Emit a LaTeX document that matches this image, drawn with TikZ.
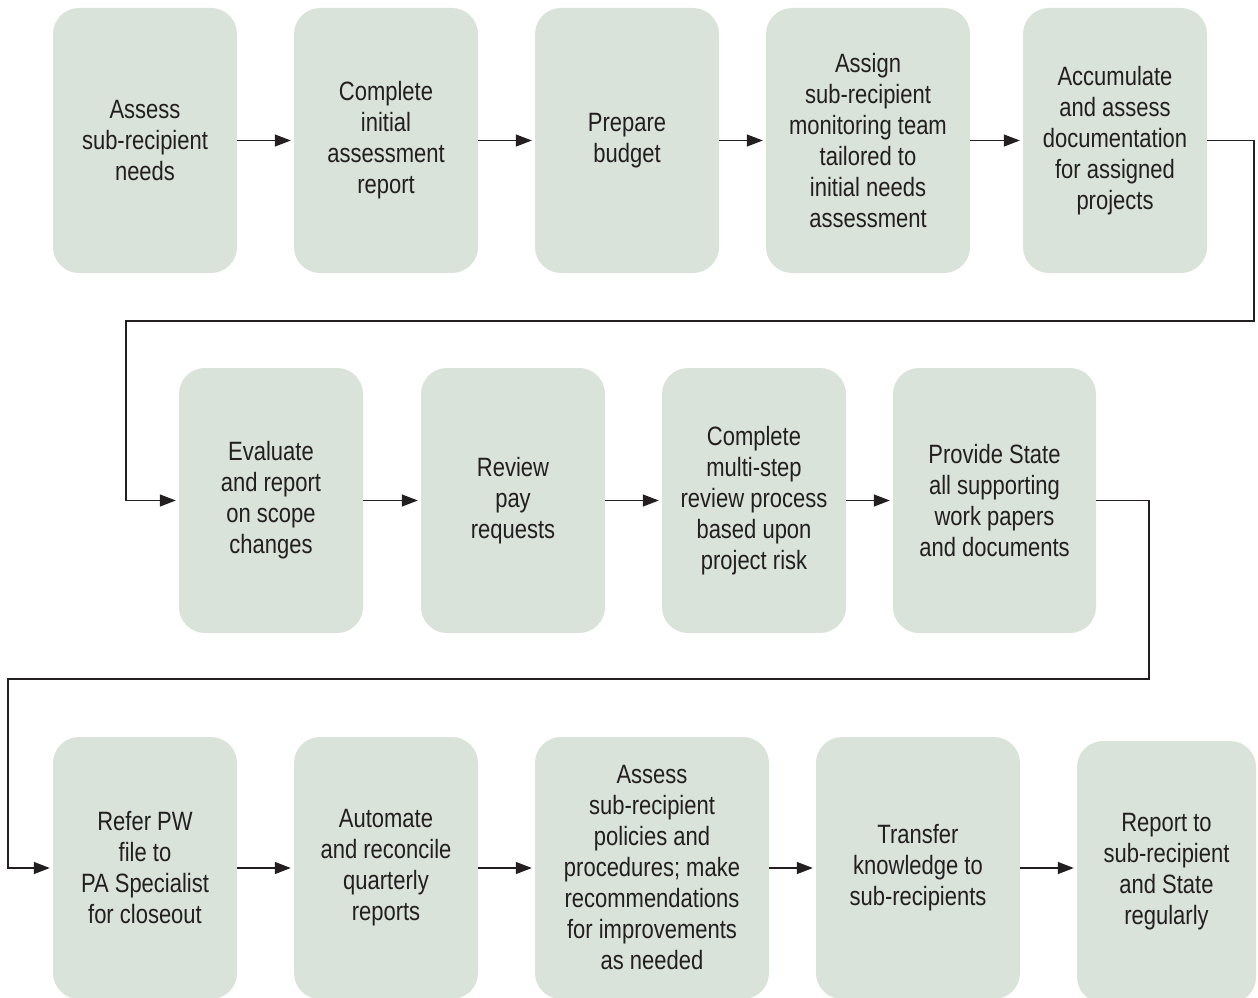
\documentclass[tikz,border=0pt]{standalone}
\usepackage{fontspec}
\setmainfont{Liberation Sans}[FakeStretch=0.83]
\usetikzlibrary{arrows.meta}
\definecolor{boxfill}{RGB}{217,227,217}
\definecolor{ink}{RGB}{35,31,32}
\tikzset{
  stepbox/.style={rectangle, rounded corners=26pt, fill=boxfill, draw=none,
    inner sep=0pt, align=center, text=ink,
    font=\fontsize{26.5}{31}\selectfont},
  flow/.style={draw=ink, line width=1.3pt, -{Triangle[length=16pt,width=12pt]}, shorten >=3pt}
}
\begin{document}
\begin{tikzpicture}[x=1pt,y=-1pt]
\useasboundingbox (0,0) rectangle (1258,998);
\clip (0,0) rectangle (1258,998);
% row 1
\node[stepbox, minimum width=184pt, minimum height=265pt] (a1) at (145,140.5) {Assess\\sub-recipient\\needs};
\node[stepbox, minimum width=184pt, minimum height=265pt] (a2) at (386,140.5) {Complete\\initial\\assessment\\report};
\node[stepbox, minimum width=184pt, minimum height=265pt] (a3) at (627,140.5) {Prepare\\budget};
\node[stepbox, minimum width=204pt, minimum height=265pt] (a4) at (868,140.5) {Assign\\sub-recipient\\monitoring team\\tailored to\\initial needs\\assessment};
\node[stepbox, minimum width=184pt, minimum height=265pt] (a5) at (1115,140.5) {Accumulate\\and assess\\documentation\\for assigned\\projects};
% row 2
\node[stepbox, minimum width=184pt, minimum height=265pt] (b1) at (271,500.5) {Evaluate\\and report\\on scope\\changes};
\node[stepbox, minimum width=184pt, minimum height=265pt] (b2) at (513,500.5) {Review\\pay\\requests};
\node[stepbox, minimum width=184pt, minimum height=265pt] (b3) at (754,500.5) {Complete\\multi-step\\review process\\based upon\\project risk};
\node[stepbox, minimum width=203pt, minimum height=265pt] (b4) at (994.5,500.5) {Provide State\\all supporting\\work papers\\and documents};
% row 3
\node[stepbox, minimum width=184pt, minimum height=262pt] (c1) at (145,868) {Refer PW\\file to\\PA Specialist\\for closeout};
\node[stepbox, minimum width=184pt, minimum height=262pt] (c2) at (386,868) {Automate\\and reconcile\\quarterly\\reports};
\node[stepbox, minimum width=234pt, minimum height=262pt] (c3) at (652,868) {Assess\\sub-recipient\\policies and\\procedures; make\\recommendations\\for improvements\\as needed};
\node[stepbox, minimum width=204pt, minimum height=262pt] (c4) at (918,868) {Transfer\\knowledge to\\sub-recipients};
\node[stepbox, minimum width=179pt, minimum height=262pt] (c5) at (1166.5,872) {Report to\\sub-recipient\\and State\\regularly};
% connectors
\draw[flow] (a1.east) -- (a2.west);
\draw[flow] (a2.east) -- (a3.west);
\draw[flow] (a3.east) -- (a4.west);
\draw[flow] (a4.east) -- (a5.west);
\coordinate (r1a) at (1254,140.5);
\coordinate (r1b) at (1254,321);
\coordinate (r1c) at (126,321);
\coordinate (r1d) at (126,500.5);
\draw[flow] (a5.east) -- (r1a) -- (r1b) -- (r1c) -- (r1d) -- (b1.west);
\draw[flow] (b1.east) -- (b2.west);
\draw[flow] (b2.east) -- (b3.west);
\draw[flow] (b3.east) -- (b4.west);
\coordinate (r2a) at (1149,500.5);
\coordinate (r2b) at (1149,679);
\coordinate (r2c) at (8,679);
\coordinate (r2d) at (8,868);
\draw[flow] (b4.east) -- (r2a) -- (r2b) -- (r2c) -- (r2d) -- (c1.west);
\draw[flow] (c1.east) -- (c2.west);
\draw[flow] (c2.east) -- (c3.west);
\draw[flow] (c3.east) -- (c4.west);
\draw[flow] (c4.east) -- (c5.west |- c4.east);
\end{tikzpicture}
\end{document}
